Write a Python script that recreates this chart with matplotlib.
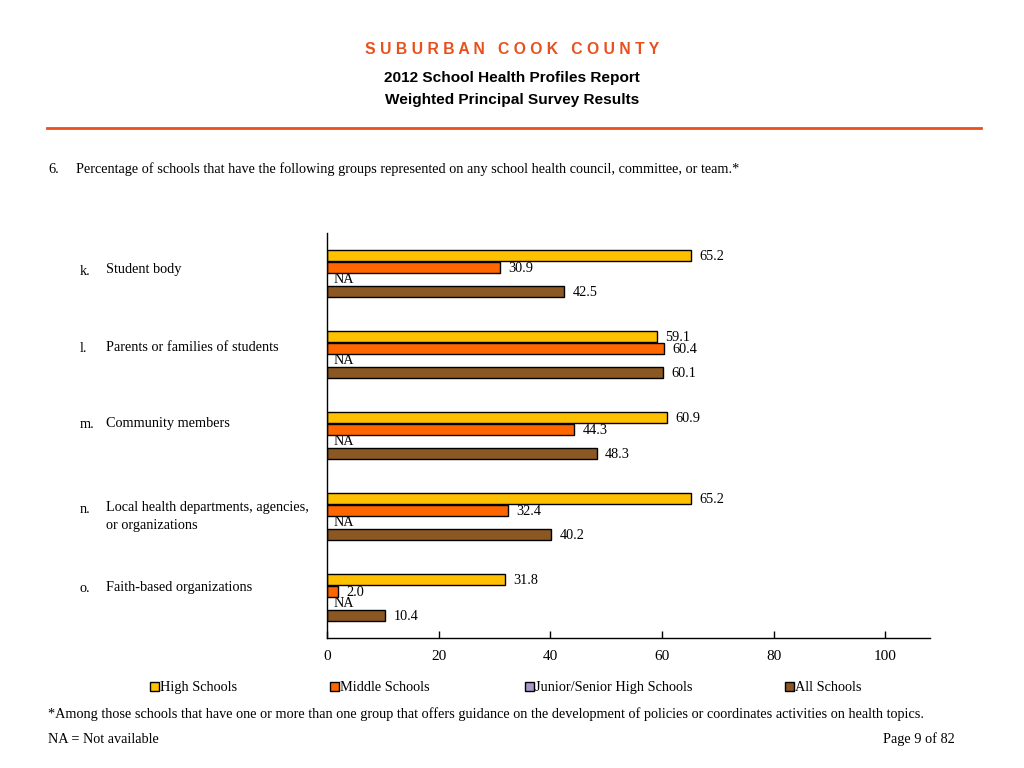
import matplotlib
matplotlib.use("Agg")
import matplotlib.pyplot as plt
from matplotlib.patches import Rectangle
from matplotlib.lines import Line2D
import numpy as np

# ---- data ----
categories = ["k.", "l.", "m.", "n.", "o."]
category_labels = ["Student body", "Parents or families of students", "Community members",
                   "Local health departments, agencies,\nor organizations", "Faith-based organizations"]
series_names = ["High Schools", "Middle Schools", "Junior/Senior High Schools", "All Schools"]
high_schools = [65.2, 59.1, 60.9, 65.2, 31.8]
middle_schools = [30.9, 60.4, 44.3, 32.4, 2.0]
junior_senior = [None, None, None, None, None]
all_schools = [42.5, 60.1, 48.3, 40.2, 10.4]
x_ticks = [0, 20, 40, 60, 80, 100]

colors = ["#FFC000", "#FF6600", "#A898C8", "#8B5722"]
serif = ["Liberation Serif", "DejaVu Serif"]
sans = ["Liberation Sans", "DejaVu Sans"]

W, H = 1024, 768
fig = plt.figure(figsize=(W / 100, H / 100), dpi=100)

def fx(px):
    return px / W

def fy(py):
    return 1 - py / H

ax = fig.add_axes([fx(327), fy(638), fx(930) - fx(327), fy(233) - fy(638)])

series = [high_schools, middle_schools, junior_senior, all_schools]
n = len(categories)
step = 0.148
bh = 0.135
ypos = np.arange(n)
for si, vals in enumerate(series):
    off = (si - 1.5) * step
    for gi, v in enumerate(vals):
        y = ypos[gi] + off
        if v is None:
            ax.annotate("NA", xy=(0, y), xytext=(4.5, 0), textcoords="offset points",
                        va="center", ha="left", fontsize=10.3, family=serif)
            continue
        ax.barh(y, v, height=bh, color=colors[si], edgecolor="black", linewidth=1.0)
        ax.annotate(f"{v:.1f}", xy=(v, y), xytext=(6, -1), textcoords="offset points",
                    va="center", ha="left", fontsize=10.3, family=serif)

ax.set_ylim(n - 0.5, -0.5)
ax.set_xlim(0, 108)
ax.set_xticks(x_ticks)
ax.set_xticklabels([str(t) for t in x_ticks], family=serif, fontsize=11)
ax.tick_params(axis="x", direction="in", length=5, width=1, pad=9)
ax.set_yticks([])
for s in ["top", "right"]:
    ax.spines[s].set_visible(False)
ax.spines["left"].set_linewidth(1)
ax.spines["bottom"].set_linewidth(1)

# ---- header ----
fig.text(0.5, fy(50), "S U B U R B A N   C O O K   C O U N T Y", ha="center", va="center",
         color="#E8501E", fontsize=11.3, fontweight="bold", family=sans)
fig.text(0.5, fy(78), "2012 School Health Profiles Report", ha="center", va="center",
         fontsize=11.1, fontweight="bold", family=sans)
fig.text(0.5, fy(100), "Weighted Principal Survey Results", ha="center", va="center",
         fontsize=11.1, fontweight="bold", family=sans)
fig.add_artist(Line2D([fx(47), fx(981)], [fy(128), fy(128)], color="#E8501E", linewidth=2))

fig.text(fx(48), fy(168), "6.", ha="left", va="center_baseline", fontsize=10.3, family=serif)
fig.text(fx(76), fy(168), "Percentage of schools that have the following groups represented on any school health council, committee, or team.*",
         ha="left", va="center_baseline", fontsize=10.3, family=serif)

# ---- category labels ----
label_y = [270, 347, 423, 516.5, 587]
for c, lab, py in zip(categories, category_labels, label_y):
    fig.text(fx(80), fy(py if "\n" not in lab else 508), c, ha="left", va="center_baseline",
             fontsize=10.3, family=serif)
    fig.text(fx(106), fy(py), lab, ha="left", va="center", fontsize=10.3, family=serif, linespacing=1.4)

# ---- legend ----
leg_x = [150, 330, 525, 785]
for name, col, lx in zip(series_names, colors, leg_x):
    fig.add_artist(Rectangle((fx(lx), fy(691)), fx(9), 9 / H, facecolor=col, edgecolor="black",
                             linewidth=1, transform=fig.transFigure))
    fig.text(fx(lx + 10), fy(686), name, ha="left", va="center_baseline", fontsize=10.3, family=serif)

# ---- footer ----
fig.text(fx(48), fy(713), "*Among those schools that have one or more than one group that offers guidance on the development of policies or coordinates activities on health topics.",
         ha="left", va="center_baseline", fontsize=10.3, family=serif)
fig.text(fx(48), fy(738), "NA = Not available", ha="left", va="center_baseline", fontsize=10.3, family=serif)
fig.text(fx(955), fy(738), "Page 9 of 82", ha="right", va="center_baseline", fontsize=10.3, family=serif)

fig.savefig("out.png", dpi=100)
